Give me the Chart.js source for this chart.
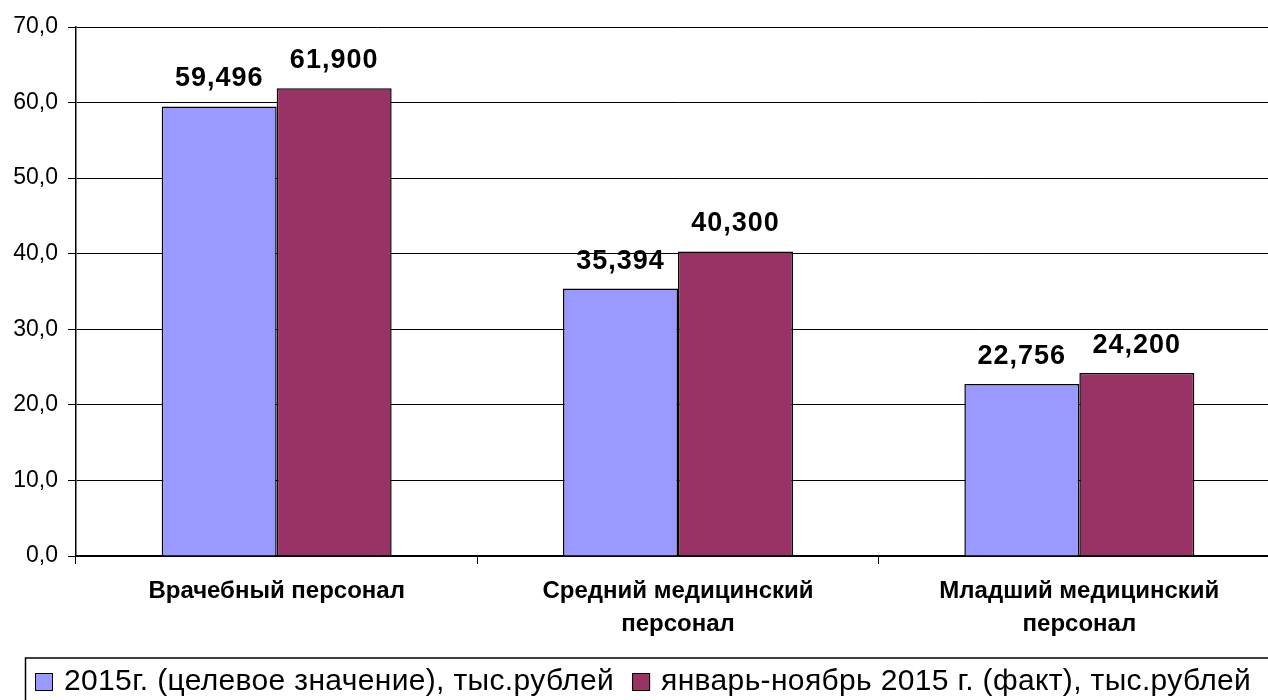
<!DOCTYPE html>
<html><head><meta charset="utf-8">
<script src="https://cdn.jsdelivr.net/npm/chart.js@4"></script>
<style>html,body{margin:0;padding:0;overflow:hidden;background:#fff}#wrap{width:1280px;height:700px;position:relative}</style>
</head><body><div id="wrap"><canvas id="c"></canvas></div>
<script>
const categories = [["Врачебный персонал"], ["Средний медицинский", "персонал"], ["Младший медицинский", "персонал"]];
const seriesNames = ["2015г. (целевое значение), тыс.рублей", "январь-ноябрь 2015 г. (факт), тыс.рублей"];
const targetValues = [59.496, 35.394, 22.756];
const factValues = [61.9, 40.3, 24.2];
const colors = ["#9999FF", "#993366"];
const FONT = "'Liberation Sans', Arial, sans-serif";
const fmt = (v, d) => v.toFixed(d).replace('.', ',');

const labelPlugin = {
  id: 'labels',
  afterDatasetsDraw(chart) {
    const ctx = chart.ctx;
    ctx.save();
    ctx.font = "bold 27px " + FONT;
    ctx.letterSpacing = "1px";
    ctx.fillStyle = "#000";
    ctx.textAlign = "center";
    ctx.textBaseline = "alphabetic";
    chart.data.datasets.forEach((ds, i) => {
      chart.getDatasetMeta(i).data.forEach((bar, j) => {
        ctx.fillText(fmt(ds.data[j], 3), bar.x, bar.y - 20);
      });
    });
    ctx.restore();
  }
};
const legendPlugin = {
  id: 'boxlegend',
  afterDraw(chart) {
    const ctx = chart.ctx;
    ctx.save();
    ctx.strokeStyle = "#000"; ctx.lineWidth = 1.5;
    ctx.strokeRect(25.5, 658, 1270, 50);
    ctx.lineWidth = 1;
    ctx.font = "30px " + FONT;
    ctx.letterSpacing = "0.35px";
    ctx.textBaseline = "middle"; ctx.textAlign = "left";
    let x = 35;
    chart.data.datasets.forEach((ds, i) => {
      ctx.fillStyle = ds.backgroundColor;
      ctx.fillRect(x, 673, 18, 18);
      ctx.strokeRect(x + 0.5, 673.5, 17, 17);
      ctx.fillStyle = "#000";
      ctx.fillText(ds.label, x + 29, 682);
      x += 29 + ctx.measureText(ds.label).width + 18;
    });
    ctx.restore();
  }
};

new Chart(document.getElementById('c'), {
  type: 'bar',
  data: {
    labels: categories,
    datasets: [
      { label: seriesNames[0], data: targetValues, backgroundColor: colors[0], borderColor: "#000", borderWidth: 1.5 },
      { label: seriesNames[1], data: factValues, backgroundColor: colors[1], borderColor: "#000", borderWidth: 1.5 }
    ]
  },
  options: {
    responsive: true, maintainAspectRatio: false, animation: false,
    layout: { padding: { top: 27, bottom: 44, left: 0, right: 0 } },
    datasets: { bar: { categoryPercentage: 0.573, barPercentage: 1 } },
    plugins: { legend: { display: false }, tooltip: { enabled: false } },
    scales: {
      x: {
        afterFit(s) { s.height = 100; },
        grid: { offset: true, drawOnChartArea: false, color: "#000", tickLength: 8 },
        border: { color: "#000", width: 1.5 },
        ticks: { color: "#000", font: { family: FONT, size: 24, weight: 'bold', lineHeight: 1.375 }, padding: 11, maxRotation: 0 }
      },
      y: {
        min: 0, max: 70,
        afterFit(s) { s.width = 76; },
        grid: { color: "#000", tickLength: 8 },
        border: { color: "#000", width: 1.5 },
        ticks: { stepSize: 10, color: "#000", font: { family: FONT, size: 23 }, padding: 10, callback: v => fmt(v, 1) }
      }
    }
  },
  plugins: [labelPlugin, legendPlugin]
});
</script></body></html>
